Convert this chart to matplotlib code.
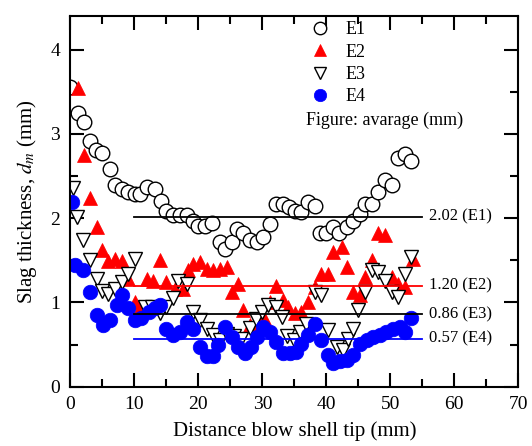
import numpy as np
import matplotlib.pyplot as plt
from matplotlib.ticker import MultipleLocator

plt.rcParams['font.family'] = ['Liberation Serif', 'DejaVu Serif']
plt.rcParams['mathtext.fontset'] = 'stix'

# slag thickness along the blow shell, four experiments
x1 = [0, 1.1, 2.1, 3.1, 4.0, 5.0, 6.2, 7.0, 8.0, 9.0, 10.1, 10.9, 12.0, 13.2, 14.1,
      15.0, 16.1, 17.1, 18.2, 19.2, 20.0, 21.1, 22.2, 23.4, 24.1, 25.2, 26.0, 27.0,
      28.0, 29.1, 30.1, 31.2, 32.2, 33.2, 34.2, 35.1, 36.1, 37.2, 38.2, 39.0, 39.9,
      41.1, 42.0, 43.2, 44.2, 45.2, 46.0, 47.1, 48.1, 49.1, 50.2, 51.2, 52.3, 53.3]
y1 = [3.56, 3.25, 3.14, 2.92, 2.81, 2.77, 2.58, 2.40, 2.35, 2.31, 2.29, 2.29, 2.37,
      2.35, 2.20, 2.09, 2.04, 2.04, 2.04, 1.97, 1.91, 1.91, 1.94, 1.72, 1.64, 1.72,
      1.87, 1.82, 1.74, 1.72, 1.78, 1.93, 2.17, 2.17, 2.13, 2.09, 2.07, 2.19, 2.15,
      1.82, 1.82, 1.89, 1.83, 1.89, 1.97, 2.05, 2.17, 2.17, 2.31, 2.45, 2.39, 2.72,
      2.76, 2.68]

x2 = [1.2, 2.1, 3.0, 4.1, 5.0, 5.9, 7.0, 8.0, 9.0, 10.1, 10.9, 12.0, 12.9, 14.0, 15.0,
      16.3, 17.6, 18.4, 19.2, 20.2, 21.3, 22.3, 23.4, 24.4, 25.2, 26.2, 27.0, 28.0,
      29.3, 30.3, 31.2, 32.2, 33.2, 34.0, 35.1, 36.1, 37.2, 38.2, 39.2, 40.3, 41.1,
      42.4, 43.2, 44.2, 45.2, 46.1, 47.1, 48.1, 49.1, 50.2, 51.2, 52.3, 53.6]
y2 = [3.55, 2.75, 2.24, 1.90, 1.62, 1.49, 1.51, 1.49, 1.28, 1.01, 0.93, 1.28, 1.26,
      1.50, 1.24, 1.16, 1.16, 1.38, 1.46, 1.48, 1.40, 1.38, 1.40, 1.42, 1.12, 1.22,
      0.91, 0.73, 0.75, 0.82, 1.00, 1.20, 1.03, 0.95, 0.87, 0.89, 1.01, 1.18, 1.34,
      1.34, 1.60, 1.66, 1.42, 1.12, 1.09, 1.30, 1.50, 1.83, 1.80, 1.30, 1.22, 1.18,
      1.52]

x3 = [0.4, 1.0, 2.0, 3.0, 4.1, 4.9, 5.9, 7.0, 8.0, 9.0, 10.1, 11.6, 12.8, 14.0, 15.0,
      16.1, 16.8, 18.2, 19.2, 20.2, 21.3, 22.3, 23.4, 24.5, 25.5, 26.7, 28.0, 29.0,
      29.9, 30.9, 32.2, 33.0, 33.8, 35.0, 35.9, 36.9, 38.2, 39.2, 40.3, 41.6, 42.6,
      43.4, 44.2, 45.0, 46.0, 47.1, 48.1, 49.1, 50.2, 51.2, 52.3, 53.3]
y3 = [2.36, 2.01, 1.74, 1.50, 1.28, 1.14, 1.10, 1.16, 1.24, 1.34, 1.52, 0.95, 0.95,
      0.87, 0.95, 1.05, 1.26, 1.22, 0.89, 0.79, 0.69, 0.61, 0.55, 0.62, 0.60, 0.57,
      0.70, 0.80, 0.89, 0.97, 0.95, 0.83, 0.60, 0.55, 0.65, 0.75, 1.12, 1.09, 0.67,
      0.47, 0.43, 0.57, 0.69, 0.91, 1.12, 1.38, 1.36, 1.26, 1.12, 1.07, 1.34, 1.54]

x4 = [0.2, 0.7, 2.0, 3.0, 4.1, 5.1, 6.2, 7.2, 8.0, 9.0, 10.1, 11.1, 12.2, 13.2, 14.0,
      15.0, 16.1, 17.1, 18.2, 19.2, 20.2, 21.3, 22.3, 23.1, 24.1, 25.2, 26.2, 27.3,
      28.3, 29.1, 30.1, 31.2, 32.2, 33.2, 34.3, 35.3, 36.1, 37.2, 38.2, 39.2, 40.3,
      41.1, 42.1, 43.2, 44.2, 45.2, 46.3, 47.3, 48.4, 49.4, 50.4, 51.5, 52.3, 53.3]
y4 = [2.19, 1.44, 1.38, 1.12, 0.85, 0.73, 0.79, 0.97, 1.09, 0.93, 0.79, 0.81, 0.89,
      0.93, 0.97, 0.69, 0.61, 0.65, 0.77, 0.69, 0.47, 0.36, 0.36, 0.49, 0.71, 0.59,
      0.47, 0.40, 0.47, 0.59, 0.71, 0.65, 0.53, 0.40, 0.40, 0.41, 0.51, 0.61, 0.75,
      0.55, 0.38, 0.28, 0.30, 0.32, 0.38, 0.51, 0.55, 0.59, 0.61, 0.65, 0.69, 0.71,
      0.65, 0.81]

means = [2.02, 1.20, 0.86, 0.57]
mean_labels = ['2.02 (E1)', '1.20 (E2)', '0.86 (E3)', '0.57 (E4)']
mean_colors = ['black', 'red', 'black', 'blue']
mean_span = [10, 55]

fig = plt.figure(figsize=(5.32, 4.46), dpi=100)
ax = fig.add_axes([0.1325, 0.133, 0.8415, 0.831])

ms = 10.5
ax.plot(x1, y1, 'o', ms=ms, mfc='white', mec='black', mew=1.0, label='E1')
ax.plot(x2, y2, '^', ms=ms, mfc='red', mec='red', mew=0.5, label='E2')
ax.plot(x3, y3, 'v', ms=ms, mfc='white', mec='black', mew=1.0, label='E3')
ax.plot(x4, y4, 'o', ms=ms, mfc='blue', mec='blue', mew=0.5, label='E4')

for m, lab, c in zip(means, mean_labels, mean_colors):
    ax.plot(mean_span, [m, m], color=c, lw=1.3)
    ax.text(56, m, lab, va='center', ha='left', fontsize=12)

ax.set_xlim(0, 70)
ax.set_ylim(0, 4.4)
ax.xaxis.set_major_locator(MultipleLocator(10))
ax.xaxis.set_minor_locator(MultipleLocator(5))
ax.yaxis.set_major_locator(MultipleLocator(1))
ax.yaxis.set_minor_locator(MultipleLocator(0.5))
ax.tick_params(which='both', direction='in', top=True, right=True, width=1.5,
               labelsize=14)
ax.tick_params(axis='x', pad=6.5)
ax.tick_params(axis='y', pad=7.5)
ax.tick_params(which='major', length=10)
ax.tick_params(which='minor', length=6)
for s in ax.spines.values():
    s.set_linewidth(1.5)

ax.set_xlabel('Distance blow shell tip (mm)', fontsize=15, labelpad=6)
ax.set_ylabel('Slag thickness, $d_m$ (mm)', fontsize=15, labelpad=8)

ax.legend(loc='upper left', bbox_to_anchor=(0.48, 1.03), frameon=False,
          fontsize=13, handletextpad=0.45, labelspacing=0.3, markerscale=0.85)
ax.text(0.527, 0.7195, 'Figure: avarage (mm)', transform=ax.transAxes, fontsize=13,
        va='center')

fig.savefig('out.png', dpi=100)
